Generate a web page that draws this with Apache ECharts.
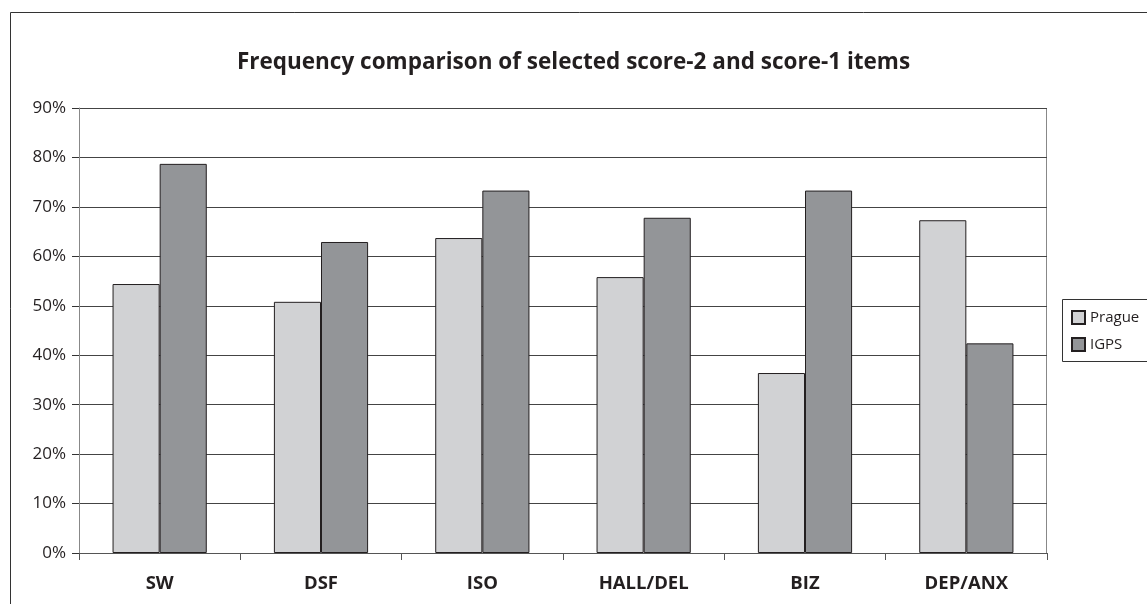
<!DOCTYPE html>
<html><head><meta charset="utf-8">
<script src="https://cdn.jsdelivr.net/npm/echarts@6/dist/echarts.min.js"></script>
<style>html,body{margin:0;padding:0;background:#fff}#c{width:1147px;height:604px}</style>
</head><body><div id="c"></div>
<script>
const categories = ['SW', 'DSF', 'ISO', 'HALL/DEL', 'BIZ', 'DEP/ANX'];
const prague = [54.4, 50.8, 63.7, 55.8, 36.4, 67.3];
const igps = [78.7, 62.9, 73.3, 67.8, 73.3, 42.4];
const seriesNames = ['Prague', 'IGPS'];
const titleText = 'Frequency comparison of selected score-2 and score-1 items';

const FONT = '"Open Sans", "Noto Sans", sans-serif';
const chart = echarts.init(document.getElementById('c'), null, {renderer: 'canvas'});
chart.setOption({
  animation: false,
  backgroundColor: '#fff',
  title: {
    text: titleText, left: 'center', top: 46,
    textStyle: {fontFamily: FONT, fontWeight: 'bold', fontSize: 22.5, color: '#231f20'}
  },
  legend: {
    orient: 'vertical', left: 1066, top: 305,
    icon: 'rect',
    itemWidth: 13, itemHeight: 13, itemGap: 12,
    textStyle: {fontFamily: FONT, fontSize: 15, color: '#231f20'},
    data: seriesNames
  },
  graphic: [
    {type: 'rect', shape: {x: 10.5, y: 12.5, width: 1150, height: 600},
     style: {fill: 'none', stroke: '#333', lineWidth: 1}, silent: true, z: -1},
    {type: 'rect', shape: {x: 1062.5, y: 299.5, width: 100, height: 62},
     style: {fill: 'none', stroke: '#333', lineWidth: 1}, silent: true, z: -1},
    {type: 'line', shape: {x1: 1046.5, y1: 108, x2: 1046.5, y2: 553},
     style: {stroke: '#888', lineWidth: 1}, silent: true}
  ],
  grid: {left: 79, right: 100, top: 108, bottom: 51, containLabel: false},
  xAxis: {
    type: 'category', data: categories,
    axisLine: {lineStyle: {color: '#555', width: 1}},
    axisTick: {show: true, length: 7, lineStyle: {color: '#555'}},
    axisLabel: {fontFamily: FONT, fontWeight: 'bold', fontSize: 18.5, color: '#231f20', margin: 21}
  },
  yAxis: {
    type: 'value', min: 0, max: 90, interval: 10,
    axisLine: {show: true, lineStyle: {color: '#888', width: 1}},
    axisTick: {show: true, length: 7, lineStyle: {color: '#333'}},
    axisLabel: {fontFamily: FONT, fontSize: 17, color: '#231f20', margin: 13, formatter: '{value}%'},
    splitLine: {lineStyle: {color: '#444', width: 1}}
  },
  series: [
    {name: seriesNames[0], type: 'bar', data: prague, barGap: '0%', barCategoryGap: '41.6%',
     itemStyle: {color: '#d1d2d4', borderColor: '#231f20', borderWidth: 1}},
    {name: seriesNames[1], type: 'bar', data: igps, barGap: '0%', barCategoryGap: '41.6%',
     itemStyle: {color: '#939598', borderColor: '#231f20', borderWidth: 1}}
  ]
});
</script></body></html>
